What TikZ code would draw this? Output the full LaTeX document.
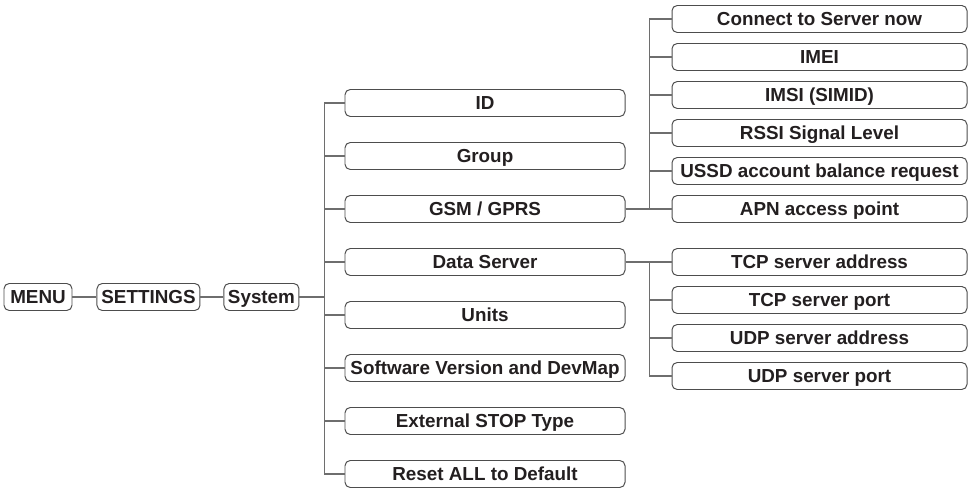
\documentclass[tikz,border=0pt]{standalone}
\usepackage{fontspec}
\setmainfont{Liberation Sans}
\usepackage{tikz}
\usetikzlibrary{positioning}
\definecolor{boxgray}{HTML}{4D4D4D}
\definecolor{linegray}{HTML}{6E6E6E}
\definecolor{ink}{HTML}{231F20}

\begin{document}
\begin{tikzpicture}[node distance=1.325cm, font=\fontsize{13.4}{16}\selectfont\bfseries, text=ink]
  \tikzstyle{item}=[rectangle, draw=boxgray, line width=0.7pt, rounded corners=0.13cm, minimum height=0.675cm, inner xsep=2pt, inner ysep=0pt, text height=11.4pt, text depth=2pt]
  \tikzstyle{sub}=[item, minimum width=7cm]
  \tikzstyle{leaf}=[item, minimum width=7.375cm]
  \tikzstyle{link}=[draw=linegray, line width=0.9pt]
  \useasboundingbox (0,0) rectangle (24.225,-12.25);
  \node[item, minimum width=1.7cm] (menu) at (0.95,-7.425) {MENU};
  \node[item, minimum width=2.575cm, right=0.6cm of menu] (settings) {SETTINGS};
  \node[item, minimum width=1.875cm, right=0.575cm of settings] (system) {System};
  \node[sub] (id) at (12.125,-2.575) {ID};
  \node[sub, below of=id] (group) {Group};
  \node[sub, below of=group] (gsm) {GSM / GPRS};
  \node[sub, below of=gsm] (data) {Data Server};
  \node[sub, below of=data] (units) {Units};
  \node[sub, below of=units] (soft) {Software Version and DevMap};
  \node[sub, below of=soft] (extstop) {External STOP Type};
  \node[sub, below of=extstop] (reset) {Reset ALL to Default};
  \begin{scope}[node distance=0.95cm]
    \node[leaf] (connect) at (20.4875,-0.475) {Connect to Server now};
    \node[leaf, below of=connect] (imei) {IMEI};
    \node[leaf, below of=imei] (imsi) {IMSI (SIMID)};
    \node[leaf, below of=imsi] (rssi) {RSSI Signal Level};
    \node[leaf, below of=rssi] (ussd) {USSD account balance request};
    \node[leaf, below of=ussd] (apn) {APN access point};
    \node[leaf] (tcpaddr) at (data -| connect) {TCP server address};
    \node[leaf, below of=tcpaddr] (tcpport) {TCP server port};
    \node[leaf, below of=tcpport] (udpaddr) {UDP server address};
    \node[leaf, below of=udpaddr] (udpport) {UDP server port};
  \end{scope}
  \draw[link] (menu) -- (settings);
  \draw[link] (settings) -- (system);
  \foreach \n in {id,group,gsm,data,units,soft,extstop,reset}
    \draw[link] (system.east) -- ++(0.625,0) |- (\n.west);
  \foreach \n in {connect,imei,imsi,rssi,ussd,apn}
    \draw[link] (gsm.east) -- ++(0.6,0) |- (\n.west);
  \foreach \n in {tcpaddr,tcpport,udpaddr,udpport}
    \draw[link] (data.east) -- ++(0.6,0) |- (\n.west);
\end{tikzpicture}
\end{document}
